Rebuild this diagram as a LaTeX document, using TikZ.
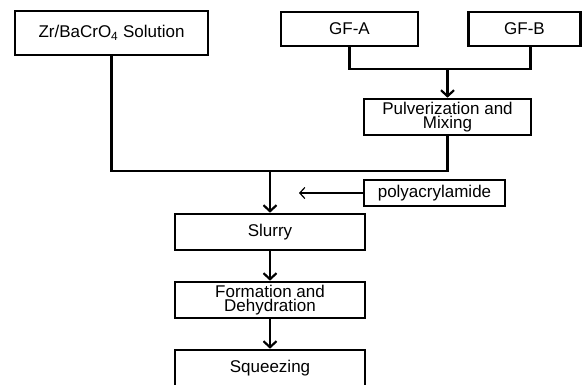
\documentclass[tikz,border=0pt]{standalone}
\usepackage{fontspec}
\setmainfont{Liberation Sans}
\usetikzlibrary{arrows.meta}

\begin{document}
\begin{tikzpicture}[x=1pt, y=-1pt,
    box/.style={draw, line width=2.6pt, inner sep=0pt, align=center,
      font=\fontsize{17}{14.5}\selectfont},
    arr/.style={line width=2.6pt, -{Straight Barb[length=6pt, width=13pt, line width=2.2pt]}},
    thinarr/.style={line width=1.2pt, -{Straight Barb[length=5pt, width=11pt, line width=1.2pt]}}]
      \useasboundingbox (0,0) rectangle (582,384);

      % Raw materials
      \node[box, minimum width=193pt, minimum height=44pt] (sol) at (111.5,33) {Zr/BaCrO\textsubscript{4} Solution};
      \node[box, minimum width=137pt, minimum height=34pt] (gfa) at (349.5,29) {GF-A};
      \node[box, minimum width=112pt, minimum height=34pt] (gfb) at (524.5,29) {GF-B};
      \node[box, minimum width=167pt, minimum height=36pt] (pulv) at (447.5,117) {Pulverization and\\Mixing};
      \node[box, minimum width=141pt, minimum height=26pt] (poly) at (434.5,193) {polyacrylamide};

      % Process chain
      \node[box, minimum width=190pt, minimum height=36pt] (slurry) at (270,232) {Slurry};
      \node[box, minimum width=190pt, minimum height=36pt] (form) at (270,300) {Formation and\\Dehydration};
      \node[box, minimum width=190pt, minimum height=36pt] (squeeze) at (270,368) {Squeezing};

      % Joints
      \coordinate (mix) at (447.5,69);
      \coordinate (merge) at (270,171);
      \coordinate (add) at (299,193);

      % Connectors
      \draw[line width=2.6pt] (gfa) |- (mix) -| ([xshift=6pt]gfb.south);
      \draw[arr] (mix) -- (pulv);
      \draw[line width=2.6pt] (sol) |- (merge) -| (pulv);
      \draw[arr] (merge) -- (slurry);
      \draw[thinarr] (poly) -- (add);
      \draw[arr] (slurry) -- (form);
      \draw[arr] (form) -- (squeeze);
    \end{tikzpicture}
\end{document}
